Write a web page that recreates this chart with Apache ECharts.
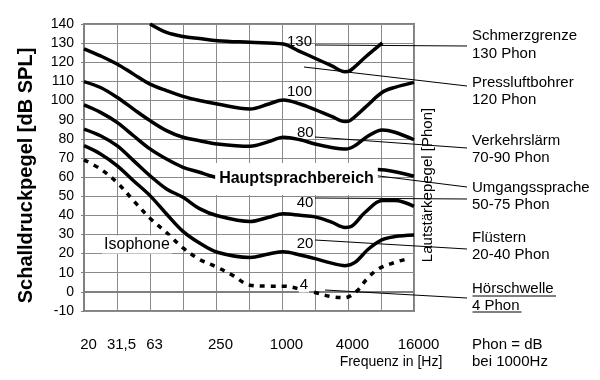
<!DOCTYPE html>
<html><head><meta charset="utf-8">
<script src="https://cdn.jsdelivr.net/npm/echarts@6/dist/echarts.min.js"></script>
<style>html,body{margin:0;padding:0;background:#fff}#c{width:600px;height:380px}</style>
</head><body><div id="c"></div>
<script>
// x values are positions on the frequency grid (0 = 20 Hz, 1 = 31,5 Hz, 2 = 63 Hz, ... 10 = 16000 Hz)
const xTickLabels = ['20', '31,5', '63', '', '250', '', '1000', '', '4000', '', '16000'];
const yMin = -10, yMax = 140, yStep = 10;

const phon130 = [[2.0,140],[2.5,135.6],[3.0,133.5],[3.5,132.4],[4.04,131.3],[5.03,130.4],[6.04,129.5],[6.5,126],[7.0,122.1],[7.5,118.2],[7.91,115.1],[8.06,115.6],[8.52,122.6],[9.04,130.1]];
const phon100 = [[0,127],[0.5,123.3],[1,119.1],[1.5,113.8],[2,108.6],[2.5,105.2],[3,102.2],[3.5,100],[4.04,98.2],[5.03,95.6],[5.6,98.2],[6.04,100.3],[6.55,98.2],[7,95.2],[7.5,91.7],[7.91,89],[8.06,89.5],[8.52,96.4],[9.04,104.3],[9.42,106.9],[10,109.5]];
const phon80 = [[0,109.9],[0.5,106.8],[1,101.7],[1.5,95.5],[2,89.5],[2.5,84.3],[3,80.8],[3.5,79],[4.04,77.3],[5.03,76.1],[5.6,78.5],[6.04,80.8],[6.55,79.5],[7,77.3],[7.5,75.5],[7.96,74.7],[8.21,76.4],[8.62,81.6],[9.04,84.6],[9.42,83.4],[10,79.5]];
const phon60 = [[0,97.7],[0.5,93.8],[1,88.6],[1.5,81.6],[2,74.7],[2.5,69.4],[3,65.1],[3.5,62.5],[3.82,60.7],[4.5,58],[5,57],[6,59.5],[7,57],[8,54],[8.5,58.5],[8.92,63.9],[9.42,62.8],[10,60.4]];
const phon40 = [[0,85.1],[0.5,81.6],[1,76.4],[1.5,68.6],[2,60.7],[2.5,53.8],[3,49.4],[3.5,43.5],[4.04,39.8],[5.03,36.8],[5.6,39],[6.04,40.8],[6.55,40],[7,39.2],[7.5,36.5],[7.91,33.7],[8.11,34.3],[8.52,41.6],[9.04,47.7],[9.42,47.7],[10,44.7]];
const phon20 = [[0,76.4],[0.5,72.1],[1,66],[1.5,58.1],[2,50.3],[2.5,40.7],[3,31.6],[3.5,25.5],[4.04,20.7],[5.03,18],[5.6,19.8],[6.04,21],[6.55,19.3],[7,17.4],[7.5,15],[7.91,13.7],[8.21,15.4],[8.62,22.4],[9.04,27.3],[9.42,28.9],[10,29.7]];
const phon4 = [[0,69],[0.5,64.2],[1,57.2],[1.5,47.7],[2,38.5],[2.5,31],[3,23],[3.5,17],[4.04,12.8],[4.52,8.5],[5.03,3.5],[5.6,3.0],[6.04,3.0],[6.55,1.5],[7,-0.3],[7.5,-2.5],[7.9,-3],[8.26,0.3],[8.57,6.7],[8.92,12],[9.42,15.4],[9.85,17.5]];

const F = '"Liberation Sans", Arial, sans-serif';
const chart = echarts.init(document.getElementById('c'), null, {renderer: 'canvas'});

function curve(data, dashed) {
  return {
    type: 'line', data: data, symbol: 'none', smooth: 0.35, clip: true, z: 3,
    lineStyle: {color: '#000', width: 3.5, type: dashed ? [5, 6] : 'solid', cap: 'butt'}
  };
}
function txt(text, x, y, o) {
  o = o || {};
  return {
    type: 'text', z: 100, x: x, y: y, rotation: o.rot || 0,
    style: Object.assign({
      text: text, x: 0, y: 0, fill: '#000',
      font: (o.weight || 'normal') + ' ' + (o.size || 15) + 'px ' + F,
      align: o.align || 'left', verticalAlign: 'middle'
    }, o.extra || {})
  };
}
function ln(x1, y1, x2, y2) {
  return {type: 'line', z: 100, shape: {x1: x1, y1: y1, x2: x2, y2: y2}, style: {stroke: '#000', lineWidth: 1}};
}

const option = {
  animation: false,
  grid: {left: 84, right: 186, top: 24, bottom: 69, show: true, borderColor: '#808080', borderWidth: 2},
  xAxis: {
    type: 'value', min: 0, max: 10, interval: 1,
    axisLine: {show: true, lineStyle: {color: '#808080', width: 2}},
    axisTick: {show: false},
    splitLine: {show: true, lineStyle: {color: '#8a8a8a', width: 1}},
    axisLabel: {formatter: v => xTickLabels[Math.round(v)] || '', color: '#000', fontSize: 15, fontFamily: F, margin: 26, padding: [0, 0, 0, 9]}
  },
  yAxis: {
    type: 'value', min: yMin, max: yMax, interval: yStep,
    axisLine: {show: true, lineStyle: {color: '#808080', width: 2}},
    axisTick: {show: true, length: 3, lineStyle: {color: '#808080'}},
    splitLine: {show: true, lineStyle: {color: '#8a8a8a', width: 1}},
    axisLabel: {color: '#000', fontSize: 14, fontFamily: F, margin: 10}
  },
  series: [curve(phon130), curve(phon100), curve(phon80), curve(phon60), curve(phon40), curve(phon20), curve(phon4, true)],
  graphic: [
    // leader lines
    ln(315, 45, 467, 46),
    ln(304, 67, 467, 86),
    ln(315, 137, 467, 148),
    ln(315, 168, 467, 187),
    ln(315, 198, 467, 199),
    ln(315, 240, 467, 249),
    ln(325, 290, 467, 298),
    // in-plot labels
    txt('Hauptsprachbereich', 296.5, 179, {weight: 'bold', size: 16, align: 'center', extra: {backgroundColor: '#fff', padding: [7, 4, 7, 4], lineHeight: 18}}),
    txt('Isophone', 137, 244.5, {size: 16, align: 'center', extra: {backgroundColor: '#fff', padding: [1, 2, 1, 2]}}),
    txt('130', 299.5, 41.7, {align: 'center'}),
    txt('100', 299.5, 91.7, {align: 'center'}),
    txt('80', 305.3, 132.5, {align: 'center'}),
    txt('40', 305, 203.3, {align: 'center'}),
    txt('20', 305, 244, {align: 'center'}),
    txt('4', 304, 285, {align: 'center', extra: {backgroundColor: '#fff', padding: [0, 1, 0, 1]}}),
    // right-hand annotations
    txt('Schmerzgrenze', 472, 36),
    txt('130 Phon', 472, 53.5),
    txt('Pressluftbohrer', 472, 83.3),
    txt('120 Phon', 472, 100.3),
    txt('Verkehrslärm', 472, 141.3),
    txt('70-90 Phon', 472, 158.3),
    txt('Umgangssprache', 472, 187.5),
    txt('50-75 Phon', 472, 205),
    txt('Flüstern', 472, 238),
    txt('20-40 Phon', 472, 254.5),
    txt('Hörschwelle', 472, 288.5),
    txt('4 Phon', 472, 305.5),
    ln(472.5, 296, 556, 296),
    ln(472.5, 312, 521.5, 312),
    txt('Phon = dB', 472, 345.3),
    txt('bei 1000Hz', 472, 362),
    // axis titles
    txt('Frequenz in [Hz]', 391, 362, {size: 14, align: 'center'}),
    txt('Schalldruckpegel [dB SPL]', 26, 175.5, {weight: 'bold', size: 20, align: 'center', rot: Math.PI / 2}),
    txt('Lautstärkepegel [Phon]', 428, 185, {size: 15, align: 'center', rot: Math.PI / 2})
  ]
};
chart.setOption(option);
</script>
</body></html>
